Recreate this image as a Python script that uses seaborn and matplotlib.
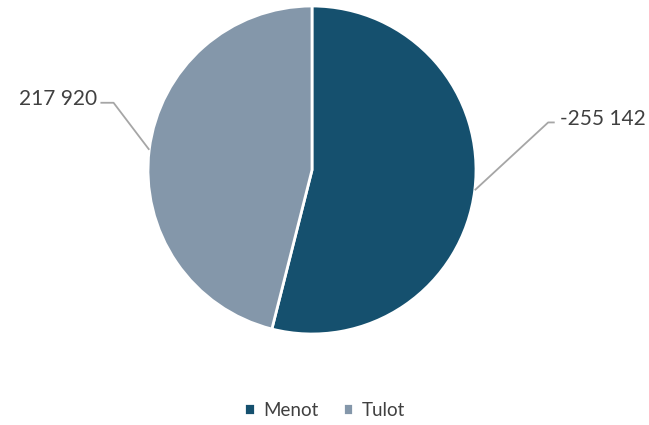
import numpy as np
import matplotlib.pyplot as plt
import seaborn as sns

# data
categories = ["Menot", "Tulot"]
values = [255142, 217920]
labels = ["-255 142", "217 920"]
colors = ["#15506e", "#8497aa"]

sns.set_theme(style="white")
plt.rcParams['font.family'] = ['Lato', 'DejaVu Sans']

fig = plt.figure(figsize=(6.49, 4.25), dpi=100)
ax = fig.add_axes([148 / 649, (425 - 334) / 425, 328 / 649, 328 / 425])

wedges, _ = ax.pie(values, colors=colors, startangle=90, counterclock=False,
                   wedgeprops=dict(edgecolor="white", linewidth=2))
ax.set_xlim(-1, 1)
ax.set_ylim(-1, 1)
ax.set_aspect("equal")

# leader lines + labels: (elbow x, elbow y, end x, text x)
label_pos = {"Menot": (1.44, 0.29, 1.48, 1.51), "Tulot": (-1.21, 0.41, -1.29, -1.31)}
for w, cat, lab in zip(wedges, categories, labels):
    ang = np.deg2rad((w.theta1 + w.theta2) / 2)
    x0, y0 = np.cos(ang), np.sin(ang)
    ex, ey, hx, tx = label_pos[cat]
    ax.plot([x0, ex, hx], [y0, ey, ey],
            color="#a6a6a6", lw=1.3, clip_on=False, solid_capstyle="butt")
    ax.text(tx, ey + 0.02, lab, fontsize=15,
            color="#404040", ha="left" if ex > 0 else "right", va="center",
            clip_on=False)

leg = fig.legend(wedges, categories, loc="lower center", bbox_to_anchor=(0.5, -0.025),
                 ncol=2, frameon=False, fontsize=13.5, handlelength=0.55, handleheight=0.55,
                 handletextpad=0.45, columnspacing=1.3)
for t in leg.get_texts():
    t.set_color("#404040")

fig.savefig("out.png", dpi=100)
